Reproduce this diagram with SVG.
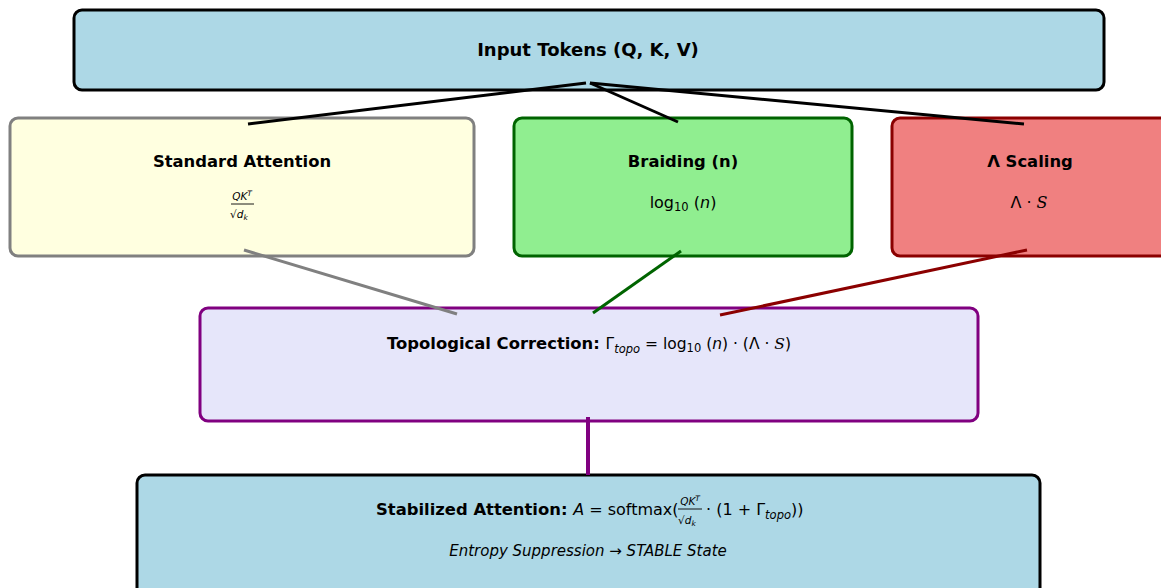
<svg xmlns="http://www.w3.org/2000/svg" width="1161" height="588" viewBox="0 0 1161 588">
<style>
.box{stroke-width:3}
.t{font-family:"DejaVu Sans",sans-serif;fill:#000}
.b{font-weight:bold;font-size:16.4px}
.m{font-size:16px}
.i{font-style:italic}
.c{stroke-width:3;fill:none}
</style>
<rect width="1161" height="588" fill="#fff"/>
<g id="input">
<rect class="box" x="74" y="10" width="1030" height="80" rx="8" fill="#ADD8E6" stroke="#000"/>
<text class="t" x="588" y="56" text-anchor="middle" font-weight="bold" font-size="18px">Input Tokens (Q, K, V)</text>
</g>
<g id="standard">
<rect class="box" x="10" y="118" width="464" height="138" rx="8" fill="#FFFFE0" stroke="#808080"/>
<text class="t b" x="242" y="167" text-anchor="middle">Standard Attention</text>
<text class="t i" x="242" y="200" text-anchor="middle" font-size="10.5">QK<tspan dy="-4" font-size="7.5">T</tspan></text>
<line x1="231" y1="204" x2="254" y2="204" stroke="#000" stroke-width="0.9"/>
<text class="t" x="230" y="218" font-size="10.5">√<tspan class="i">d</tspan><tspan class="i" dy="2" font-size="7.5">k</tspan></text>
</g>
<g id="braiding">
<rect class="box" x="514" y="118" width="338" height="138" rx="8" fill="#90EE90" stroke="#006400"/>
<text class="t b" x="683" y="167" text-anchor="middle">Braiding (n)</text>
<text class="t m" x="683" y="208" text-anchor="middle">log<tspan dy="3" font-size="11.5">10</tspan><tspan dy="-3"> (</tspan><tspan class="i">n</tspan>)</text>
</g>
<g id="scaling">
<rect class="box" x="892" y="118" width="290" height="138" rx="8" fill="#F08080" stroke="#8B0000"/>
<text class="t b" x="1030" y="167" text-anchor="middle">Λ Scaling</text>
<text class="t m" x="1029" y="208" text-anchor="middle">Λ · <tspan font-family="DejaVu Serif,serif" font-style="italic">S</tspan></text>
</g>
<g id="topo">
<rect class="box" x="200" y="308" width="778" height="113" rx="8" fill="#E6E6FA" stroke="#800080"/>
<text class="t" x="589" y="349" text-anchor="middle" font-size="15.5px"><tspan class="b">Topological Correction: </tspan><tspan>Γ</tspan><tspan class="i" dy="4" font-size="11.5">topo</tspan><tspan dy="-4"> = log</tspan><tspan dy="3" font-size="11.5">10</tspan><tspan dy="-3"> (</tspan><tspan class="i">n</tspan><tspan>) · (Λ · </tspan><tspan font-family="DejaVu Serif,serif" font-style="italic">S</tspan><tspan>)</tspan></text>
</g>
<g id="stabilized">
<rect class="box" x="137" y="475" width="903" height="130" rx="8" fill="#ADD8E6" stroke="#000"/>
<text class="t" x="376" y="515"><tspan class="b">Stabilized Attention: </tspan><tspan class="m i">A</tspan><tspan class="m"> = softmax(</tspan></text>
<text class="t i" x="690" y="505" text-anchor="middle" font-size="10.5">QK<tspan dy="-4" font-size="7.5">T</tspan></text>
<line x1="678" y1="509" x2="702" y2="509" stroke="#000" stroke-width="0.9"/>
<text class="t" x="678" y="524" font-size="10.5">√<tspan class="i">d</tspan><tspan class="i" dy="2" font-size="7.5">k</tspan></text>
<text class="t m" x="706" y="515">· (1 + Γ<tspan class="i" dy="4" font-size="11.5">topo</tspan><tspan dy="-4">))</tspan></text>
<text class="t i" x="588" y="556" text-anchor="middle" font-size="15px">Entropy Suppression → STABLE State</text>
</g>
<g id="connectors">
<line class="c" x1="586" y1="83" x2="248" y2="124" stroke="#000"/>
<line class="c" x1="590" y1="83" x2="678" y2="122" stroke="#000"/>
<line class="c" x1="590" y1="83" x2="1024" y2="124" stroke="#000"/>
<line class="c" x1="244" y1="250" x2="457" y2="314" stroke="#808080"/>
<line class="c" x1="681" y1="251" x2="593" y2="313" stroke="#006400"/>
<line class="c" x1="1027" y1="250" x2="720" y2="315" stroke="#8B0000"/>
<line x1="588" y1="417" x2="588" y2="475" stroke="#800080" stroke-width="4"/>
</g>
</svg>
